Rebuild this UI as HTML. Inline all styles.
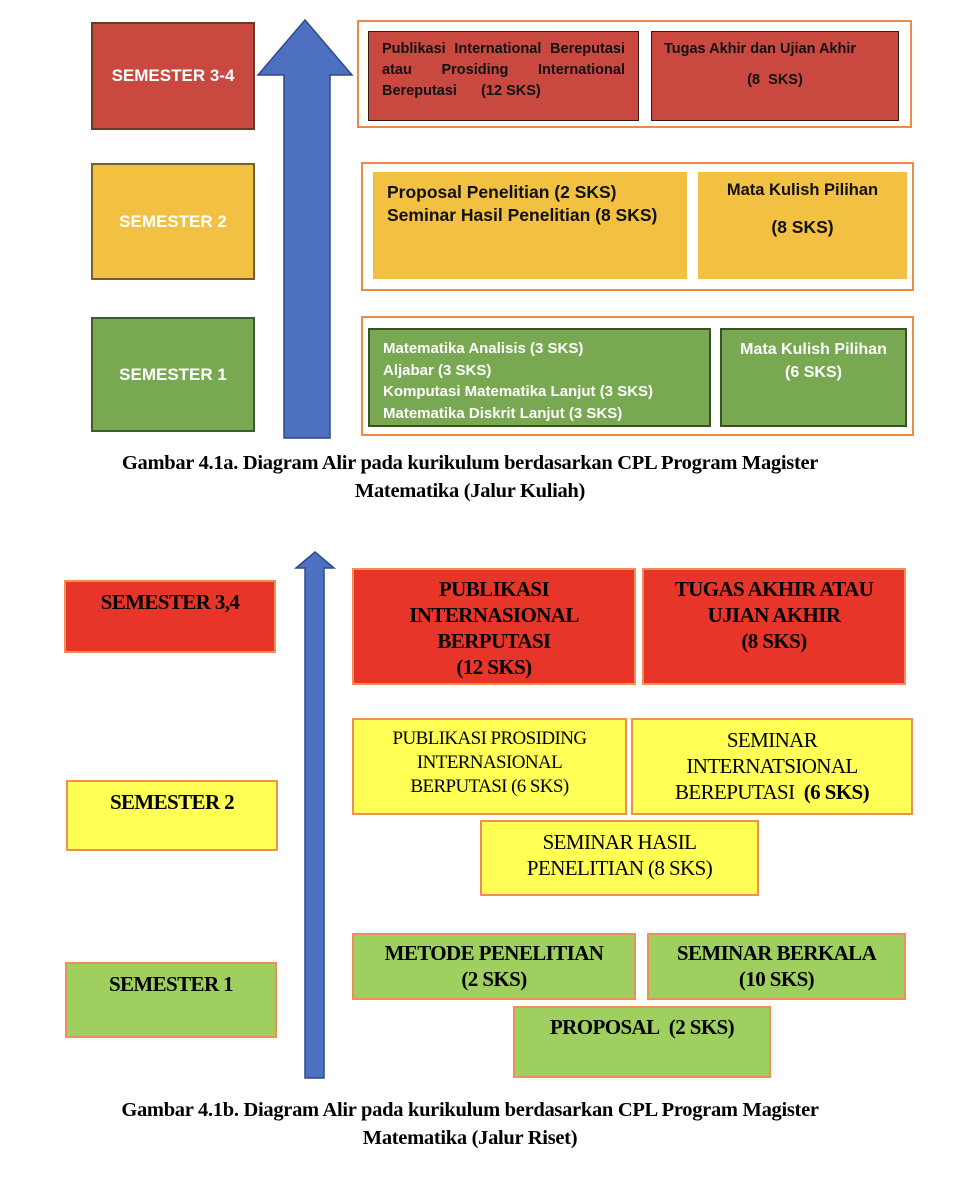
<!DOCTYPE html>
<html><head><meta charset="utf-8"><style>
body{margin:0;width:964px;height:1178px;background:#fff;position:relative;overflow:hidden;font-family:"Liberation Sans",sans-serif}
.b{position:absolute;box-sizing:border-box}
.s{font-family:"Liberation Sans",sans-serif;font-weight:bold;font-size:17px;color:#fff;display:flex;align-items:center;justify-content:center}
.t{font-family:"Liberation Serif",serif;font-weight:bold;text-align:center;color:#000;letter-spacing:-0.6px;font-size:21px;line-height:26px}
.n{font-weight:normal}
.cap{position:absolute;left:0;width:940px;text-align:center;font-family:"Liberation Serif",serif;font-weight:bold;font-size:20.5px;line-height:28px;letter-spacing:-0.3px}
</style></head><body>
<!-- Part A -->
<div class="b s" style="left:91px;top:22px;width:164px;height:108px;background:#c94840;border:2px solid #6b3a24">SEMESTER 3-4</div>
<div class="b s" style="left:91px;top:163px;width:164px;height:117px;background:#f3c142;border:2px solid #7a5f2a">SEMESTER 2</div>
<div class="b s" style="left:91px;top:317px;width:164px;height:115px;background:#79a853;border:2px solid #3f5a2b">SEMESTER 1</div>
<svg class="b" style="left:255px;top:15px" width="100" height="425"><polygon points="50,5 97,60 75,60 75,423 29,423 29,60 3,60" fill="#4e70c0" stroke="#2e4a8a" stroke-width="1.5"/></svg>

<div class="b" style="left:357px;top:20px;width:555px;height:108px;border:2px solid #ed8a4a"></div>
<div class="b" style="left:368px;top:31px;width:271px;height:90px;background:#c94840;border:1px solid #3a1a16;padding:7px 13px;font-size:14.5px;font-weight:bold;line-height:21px;color:#111"><div style="text-align:justify;text-align-last:justify">Publikasi International Bereputasi atau Prosiding International</div><div>Bereputasi&nbsp;&nbsp;&nbsp;&nbsp;&nbsp;&nbsp;(12 SKS)</div></div>
<div class="b" style="left:651px;top:31px;width:248px;height:90px;background:#c94840;border:1px solid #3a1a16;padding:7px 0 0 12px;font-size:14.5px;font-weight:bold;line-height:21px;color:#111">Tugas Akhir dan Ujian Akhir<br><div style="text-align:center;margin-top:10px;padding-right:12px">(8&nbsp; SKS)</div></div>

<div class="b" style="left:361px;top:162px;width:553px;height:129px;border:2px solid #ed8a4a"></div>
<div class="b" style="left:373px;top:172px;width:314px;height:107px;background:#f3c142;padding:9px 14px;font-size:17.5px;font-weight:bold;line-height:23px;color:#111">Proposal Penelitian (2 SKS)<br>Seminar Hasil Penelitian (8 SKS)</div>
<div class="b" style="left:698px;top:172px;width:209px;height:107px;background:#f3c142;padding-top:8px;font-size:16.5px;font-weight:bold;line-height:20px;text-align:center;color:#111">Mata Kulish Pilihan<div style="margin-top:17px;font-size:17.5px">(8 SKS)</div></div>

<div class="b" style="left:361px;top:316px;width:553px;height:120px;border:2px solid #ed8a4a"></div>
<div class="b" style="left:368px;top:328px;width:343px;height:99px;background:#79a853;border:2px solid #3a5226;padding:8px 13px;font-size:15px;font-weight:bold;line-height:21.5px;color:#fff">Matematika Analisis (3 SKS)<br>Aljabar (3 SKS)<br>Komputasi Matematika Lanjut (3 SKS)<br>Matematika Diskrit Lanjut (3 SKS)</div>
<div class="b" style="left:720px;top:328px;width:187px;height:99px;background:#79a853;border:2px solid #3a5226;padding-top:8px;font-size:16px;font-weight:bold;line-height:23px;text-align:center;color:#fff">Mata Kulish Pilihan<br>(6 SKS)</div>

<div class="cap" style="top:449px">Gambar 4.1a. Diagram Alir pada kurikulum berdasarkan CPL Program Magister<br>Matematika (Jalur Kuliah)</div>

<!-- Part B -->
<svg class="b" style="left:290px;top:548px" width="50" height="533"><polygon points="25,4 44,20 34,20 34,530 15,530 15,20 6,20" fill="#4e70c0" stroke="#2e4a8a" stroke-width="1.5"/></svg>
<div class="b t" style="left:64px;top:580px;width:212px;height:73px;background:#e8352a;border:2px solid #ef8f55;padding-top:7px">SEMESTER 3,4</div>
<div class="b t" style="left:352px;top:568px;width:284px;height:117px;background:#e8352a;border:2px solid #ef8f55;padding-top:6px">PUBLIKASI<br>INTERNASIONAL<br>BERPUTASI<br>(12 SKS)</div>
<div class="b t" style="left:642px;top:568px;width:264px;height:117px;background:#e8352a;border:2px solid #ef8f55;padding-top:6px">TUGAS AKHIR ATAU<br>UJIAN AKHIR<br>(8 SKS)</div>

<div class="b t" style="left:66px;top:780px;width:212px;height:71px;background:#ffff55;border:2px solid #ef8f55;padding-top:7px">SEMESTER 2</div>
<div class="b t n" style="left:352px;top:718px;width:275px;height:97px;background:#ffff55;border:2px solid #ef8f55;padding-top:7px;font-size:19px;line-height:24px">PUBLIKASI PROSIDING<br>INTERNASIONAL<br>BERPUTASI (6 SKS)</div>
<div class="b t n" style="left:631px;top:718px;width:282px;height:97px;background:#ffff55;border:2px solid #ef8f55;padding-top:7px">SEMINAR<br>INTERNATSIONAL<br>BEREPUTASI&nbsp; <b>(6 SKS)</b></div>
<div class="b t n" style="left:480px;top:820px;width:279px;height:76px;background:#ffff55;border:2px solid #ef8f55;padding-top:7px">SEMINAR HASIL<br>PENELITIAN (8 SKS)</div>

<div class="b t" style="left:65px;top:962px;width:212px;height:76px;background:#9ecf5f;border:2px solid #ef8f55;padding-top:7px">SEMESTER 1</div>
<div class="b t" style="left:352px;top:933px;width:284px;height:67px;background:#9ecf5f;border:2px solid #ef8f55;padding-top:5px">METODE PENELITIAN<br>(2 SKS)</div>
<div class="b t" style="left:647px;top:933px;width:259px;height:67px;background:#9ecf5f;border:2px solid #ef8f55;padding-top:5px">SEMINAR BERKALA<br>(10 SKS)</div>
<div class="b t" style="left:513px;top:1006px;width:258px;height:72px;background:#9ecf5f;border:2px solid #ef8f55;padding-top:6px">PROPOSAL&nbsp; (2 SKS)</div>

<div class="cap" style="top:1096px">Gambar 4.1b. Diagram Alir pada kurikulum berdasarkan CPL Program Magister<br>Matematika (Jalur Riset)</div>
</body></html>
